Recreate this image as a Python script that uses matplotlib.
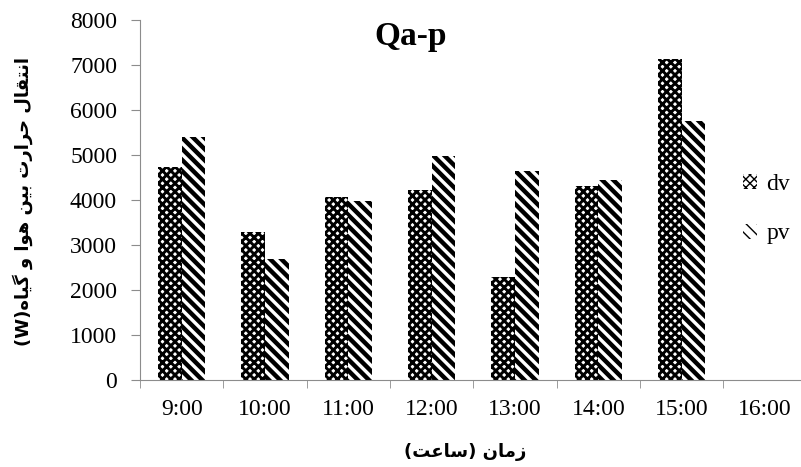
import numpy as np
import matplotlib
matplotlib.use('Agg')
import matplotlib.pyplot as plt

# ===========================================
# DATI
# ===========================================
hours = ['9:00', '10:00', '11:00', '12:00', '13:00', '14:00', '15:00', '16:00']
dv = [4740, 3295, 4075, 4222, 2282, 4318, 7126, np.nan]
pv = [5390, 2700, 3985, 4978, 4651, 4444, 5763, np.nan]
series_names = ['dv', 'pv']
title = 'Qa-p'
ylabel = 'انتقال حرارت بین هوا و گیاه(W)'
xlabel = 'زمان (ساعت)'

# forme contestuali (isolata, finale, iniziale, mediana)
FORMS = {
    'ا': ('\uFE8D', '\uFE8E', None, None),
    'ب': ('\uFE8F', '\uFE90', '\uFE91', '\uFE92'),
    'ت': ('\uFE95', '\uFE96', '\uFE97', '\uFE98'),
    'ح': ('\uFEA1', '\uFEA2', '\uFEA3', '\uFEA4'),
    'ر': ('\uFEAD', '\uFEAE', None, None),
    'ز': ('\uFEAF', '\uFEB0', None, None),
    'س': ('\uFEB1', '\uFEB2', '\uFEB3', '\uFEB4'),
    'ع': ('\uFEC9', '\uFECA', '\uFECB', '\uFECC'),
    'ق': ('\uFED5', '\uFED6', '\uFED7', '\uFED8'),
    'ل': ('\uFEDD', '\uFEDE', '\uFEDF', '\uFEE0'),
    'م': ('\uFEE1', '\uFEE2', '\uFEE3', '\uFEE4'),
    'ن': ('\uFEE5', '\uFEE6', '\uFEE7', '\uFEE8'),
    'ه': ('\uFEE9', '\uFEEA', '\uFEEB', '\uFEEC'),
    'و': ('\uFEED', '\uFEEE', None, None),
    'ی': ('\uFBFC', '\uFBFD', '\uFBFE', '\uFBFF'),
    'گ': ('\uFB92', '\uFB93', '\uFB94', '\uFB95'),
}


def shape_rtl(text):
    """Forme contestuali + ordine visivo (testo semplice)"""
    out = []
    for i, c in enumerate(text):
        if c not in FORMS:
            out.append(c)
            continue
        iso, fin, ini, med = FORMS[c]
        prev = text[i-1] if i > 0 else None
        nxt = text[i+1] if i + 1 < len(text) else None
        jp = prev in FORMS and FORMS[prev][2] is not None
        jn = nxt in FORMS and ini is not None
        if jp and jn:
            out.append(med)
        elif jp:
            out.append(fin)
        elif jn:
            out.append(ini)
        else:
            out.append(iso)
    s = ''.join(out)[::-1]
    return s.translate(str.maketrans('()', ')('))


# ===========================================
# GRAFICO
# ===========================================
fig = plt.figure(figsize=(8.01, 4.67), dpi=100)
ax = fig.add_axes([140/801, 87/467, 666.7/801, 360/467])

x = np.arange(len(hours))
w = 0.285
serif = 'Liberation Serif'
lw_dv, lw_pv = 2.1, 3.2

with plt.rc_context({'hatch.linewidth': lw_dv}):
    b1 = ax.bar(x - w/2, dv, w, color='white', edgecolor='black', hatch='xxxx',
                linewidth=0, label=series_names[0])
with plt.rc_context({'hatch.linewidth': lw_pv}):
    b2 = ax.bar(x + w/2, pv, w, color='white', edgecolor='black', hatch='\\\\\\',
                linewidth=0, label=series_names[1])

for bars, lw in [(b1, lw_dv), (b2, lw_pv)]:
    for p in bars:
        if hasattr(p, 'set_hatch_linewidth'):
            p.set_hatch_linewidth(lw)

ax.set_xlim(-0.5, len(hours) - 0.5)
ax.set_ylim(0, 8000)
ax.set_yticks(np.arange(0, 8001, 1000))
ax.set_xticks(x)
ax.set_xticklabels(hours, fontfamily=serif, fontsize=17)
ax.set_xticks(np.arange(-0.5, len(hours), 1.0), minor=True)
ax.tick_params(axis='x', which='major', length=0, pad=14)
ax.tick_params(axis='x', which='minor', length=6, color='#8c8c8c')
ax.tick_params(axis='y', length=6.5, color='#8c8c8c', pad=10)
for lab in ax.get_yticklabels():
    lab.set_fontfamily(serif)
    lab.set_fontsize(17)

for s in ['top', 'right']:
    ax.spines[s].set_visible(False)
for s in ['left', 'bottom']:
    ax.spines[s].set_color('#8c8c8c')

fig.text(411/801, 1 - 36/467, title, ha='center', va='center',
         fontfamily=serif, fontweight='bold', fontsize=24)
fig.text(23/801, 1 - 202/467, shape_rtl(ylabel), rotation=90, ha='center',
         va='center', fontfamily=['DejaVu Sans'], fontweight='bold', fontsize=13)
fig.text(465/801, 1 - 452/467, shape_rtl(xlabel), ha='center', va='center',
         fontfamily=['DejaVu Sans'], fontweight='bold', fontsize=13)

leg = ax.legend(loc='upper left', bbox_to_anchor=(743/801, 1 - 174/467),
                bbox_transform=fig.transFigure, frameon=False,
                prop={'family': serif, 'size': 17}, handlelength=0.6,
                handleheight=0.6, handletextpad=0.4, labelspacing=1.2,
                borderpad=0, borderaxespad=0)

fig.savefig('out.png', dpi=100)
